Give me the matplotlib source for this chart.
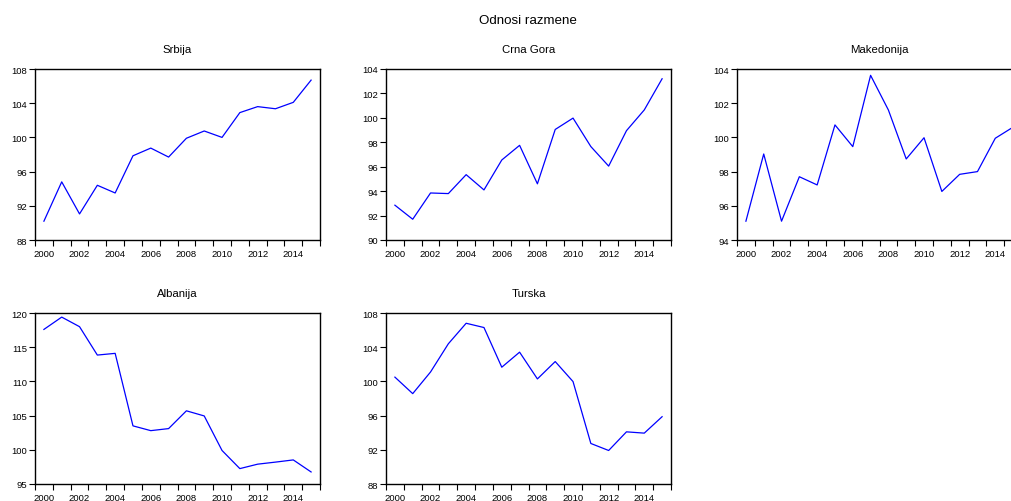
import numpy as np
import matplotlib
matplotlib.use("Agg")
import matplotlib.pyplot as plt

plt.rcParams['font.family'] = ['Liberation Sans', 'DejaVu Sans']

years = np.arange(2000, 2016)

srbija = [90.2, 94.8, 91.05, 94.4, 93.5, 97.85, 98.75, 97.7, 99.9, 100.75,
          100.0, 102.9, 103.6, 103.35, 104.1, 106.7]
crna_gora = [92.85, 91.7, 93.85, 93.8, 95.35, 94.1, 96.55, 97.75, 94.6, 99.05,
             99.98, 97.65, 96.05, 98.95, 100.65, 103.2]
makedonija = [95.1, 99.03, 95.1, 97.7, 97.22, 100.73, 99.46, 103.63, 101.6, 98.74,
              99.98, 96.84, 97.84, 98.0, 99.95, 100.6]
albanija = [117.6, 119.4, 118.0, 113.85, 114.1, 103.5, 102.8, 103.1, 105.7, 104.95,
            99.9, 97.25, 97.9, 98.2, 98.52, 96.76]
turska = [100.5, 98.57, 101.1, 104.4, 106.8, 106.3, 101.66, 103.42, 100.29, 102.32,
          99.98, 92.74, 91.92, 94.1, 93.95, 95.87]

panels = [
    ("Srbija", srbija, (88, 108), np.arange(88, 109, 4), (35, 70)),
    ("Crna Gora", crna_gora, (90, 104), np.arange(90, 105, 2), (386, 70)),
    ("Makedonija", makedonija, (94, 104), np.arange(94, 105, 2), (737, 70)),
    ("Albanija", albanija, (95, 120), np.arange(95, 121, 5), (35, 314)),
    ("Turska", turska, (88, 108), np.arange(88, 109, 4), (386, 314)),
]

W, H = 1012, 502
fig = plt.figure(figsize=(W / 100, H / 100), dpi=100)
fig.text(528 / W, 1 - 21 / H, "Odnosi razmene", ha="center", va="center", fontsize=9.6)

pw, ph = 285, 171
for title, vals, ylim, yticks, (px, py) in panels:
    ax = fig.add_axes([px / W, 1 - (py + ph) / H, pw / W, ph / H])
    ax.plot(years, vals, color="#0000ff", lw=0.9)
    ax.set_xlim(1999.5, 2015.5)
    ax.set_ylim(*ylim)
    ax.set_yticks(yticks)
    ax.set_yticklabels([str(t) for t in yticks])
    # ticks on year boundaries, labels centred on even years
    ax.set_xticks(np.arange(1999.5, 2016, 1))
    ax.set_xticklabels([])
    ax.set_xticks(np.arange(2000, 2016, 2), minor=True)
    ax.set_xticklabels([str(y) for y in range(2000, 2016, 2)], minor=True)
    ax.tick_params(axis="x", which="major", direction="out", length=4, width=0.8)
    ax.tick_params(axis="x", which="minor", length=0, pad=6.5, labelsize=6.8)
    ax.tick_params(axis="y", direction="out", length=4, width=0.8, pad=1.5, labelsize=6.8)
    for s in ax.spines.values():
        s.set_linewidth(1.0)
    ax.set_title(title, fontsize=8.2, pad=12)

fig.savefig("out.png", dpi=100)
